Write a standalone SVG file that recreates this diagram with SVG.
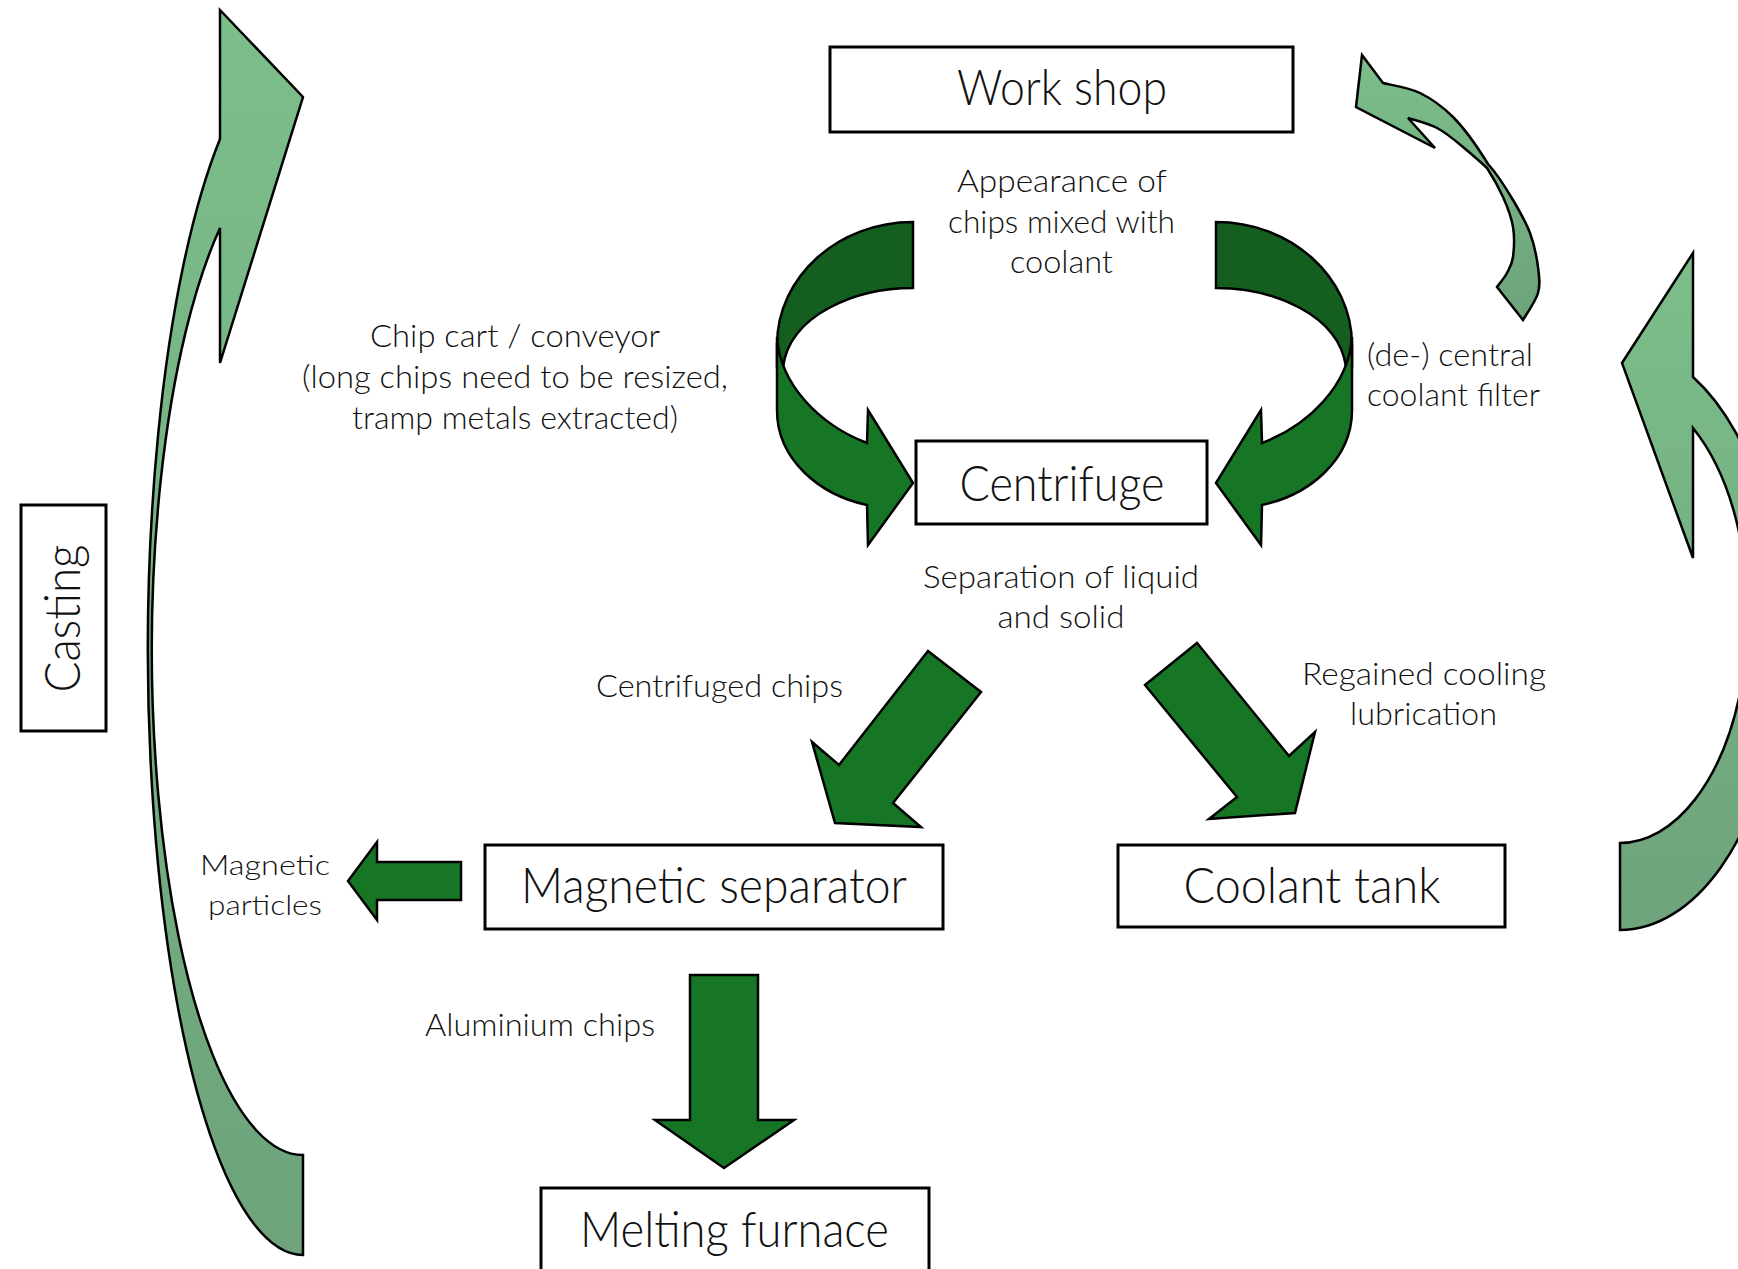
<svg xmlns="http://www.w3.org/2000/svg" width="1738" height="1269" viewBox="0 0 1738 1269">
<defs>
<linearGradient id="lg" x1="0" y1="0" x2="0" y2="1">
<stop offset="0" stop-color="#7cbe8a"/>
<stop offset="1" stop-color="#6ea37b"/>
</linearGradient>
<style>
.box{fill:#fff;stroke:#000;stroke-width:3}
.lt{fill:url(#lg);stroke:#000;stroke-width:2.5;stroke-linejoin:miter}
.dk{fill:#177626;stroke:#000;stroke-width:2.5;stroke-linejoin:miter}
.bk{fill:#145e20;stroke:#000;stroke-width:2.5}
text{font-family:Lato,"Liberation Sans",sans-serif;font-weight:300;fill:#111;text-anchor:middle}
.big{font-size:49px}
.sm{font-size:32px}
.xs{font-size:27px}
.la{text-anchor:start}
</style>
<g id="uturn">
<path class="bk" d="M 913,222 C 838,222 777,277 777,345 L 777,367 L 783,367 C 790,315 855,288 913,288 Z"/>
<path class="dk" d="M 777,337 C 780,385 820,425 867,443 L 868,410 L 913,483 L 868,545 L 867,505 C 820,495 777,460 777,410 Z"/>
</g>
</defs>
<rect width="1738" height="1269" fill="#fff"/>

<g id="connectors">
<path id="casting-loop" class="lt" d="M 303,1255 A 155 605 0 0 1 220,139 L 220,10 L 303,97 L 220,363 L 220,228 A 151 505 0 0 0 303,1155 Z"/>
<path id="right-loop" class="lt" d="M 1620,930 A 163 292 0 0 0 1693,377 L 1693,253 L 1622,363 L 1693,558 L 1693,428 A 128 228 0 0 1 1620,843 Z"/>
<path id="filter-return" class="lt" d="M 1497,287 C 1498.7,284.7 1504.3,278 1507,273 C 1509.7,268 1512,264.7 1513,257 C 1514,249.3 1514.7,237 1513,227 C 1511.3,217 1507.3,206.5 1503,197 C 1498.7,187.5 1493.7,178.3 1487,168 C 1480.3,161.7 1471.3,154 1463,147 C 1454.7,140 1446.2,132.8 1437,128 C 1427.8,123.2 1412.8,119.7 1408,118 L 1435,148 L 1356,107 L 1362,55 L 1383,83 C 1389.2,84.7 1408.3,87.3 1420,93 C 1431.7,98.7 1441.8,105.8 1453,117 C 1464.2,128.2 1477,146.2 1488,164 C 1497,173.8 1505.8,187.8 1513,200 C 1520.2,212.2 1525.8,221.8 1530,233 C 1534.2,244.2 1536.7,257 1538,267 C 1539.3,277 1540.5,284.2 1538,293 C 1535.5,301.8 1525.5,315.5 1523,320 Z"/>
<use id="to-centrifuge-left" href="#uturn"/>
<use id="to-centrifuge-right" href="#uturn" transform="matrix(-1 0 0 1 2129 0)"/>
<path id="centrifuged-chips" class="dk" d="M 928,651 L 981,692 L 893,803 L 921,827 L 835,823 L 812,742 L 839,765 Z"/>
<path id="regained-coolant" class="dk" d="M 1197,643 L 1145,685 L 1237,797 L 1209,819 L 1295,813 L 1315,732 L 1289,756 Z"/>
<path id="magnetic-particles" class="dk" d="M 461,862 L 377,862 L 377,842 L 348,881 L 377,920 L 377,900 L 461,900 Z"/>
<path id="aluminium-chips" class="dk" d="M 690,975 L 758,975 L 758,1120 L 794,1120 L 724,1168 L 655,1120 L 690,1120 Z"/>
</g>

<g id="node-workshop">
<rect class="box" x="830" y="47" width="463" height="85"/>
<text class="big" x="1062" y="105" textLength="210" lengthAdjust="spacingAndGlyphs">Work shop</text>
</g>
<g id="node-centrifuge">
<rect class="box" x="916" y="441" width="291" height="83"/>
<text class="big" x="1062" y="501" textLength="205" lengthAdjust="spacingAndGlyphs">Centrifuge</text>
</g>
<g id="node-magnetic-separator">
<rect class="box" x="485" y="845" width="458" height="84"/>
<text class="big" x="714" y="903" textLength="386" lengthAdjust="spacingAndGlyphs">Magnetic separator</text>
</g>
<g id="node-coolant-tank">
<rect class="box" x="1118" y="845" width="387" height="82"/>
<text class="big" x="1312" y="903" textLength="257" lengthAdjust="spacingAndGlyphs">Coolant tank</text>
</g>
<g id="node-melting-furnace">
<rect class="box" x="541" y="1188" width="388" height="100"/>
<text class="big" x="734.5" y="1247" textLength="309" lengthAdjust="spacingAndGlyphs">Melting furnace</text>
</g>
<g id="node-casting">
<rect class="box" x="21" y="505" width="85" height="226"/>
<text class="big" transform="translate(80,618.5) rotate(-90)" x="0" y="0" textLength="148" lengthAdjust="spacingAndGlyphs">Casting</text>
</g>

<g id="labels">
<text class="sm" x="1062" y="192" textLength="210" lengthAdjust="spacingAndGlyphs">Appearance of</text>
<text class="sm" x="1061.5" y="233" textLength="227" lengthAdjust="spacingAndGlyphs">chips mixed with</text>
<text class="sm" x="1061.5" y="273" textLength="103" lengthAdjust="spacingAndGlyphs">coolant</text>
<text class="sm" x="515" y="347" textLength="290" lengthAdjust="spacingAndGlyphs">Chip cart / conveyor</text>
<text class="sm" x="515" y="388" textLength="426" lengthAdjust="spacingAndGlyphs">(long chips need to be resized,</text>
<text class="sm" x="515" y="429" textLength="326" lengthAdjust="spacingAndGlyphs">tramp metals extracted)</text>
<text class="sm la" x="1367" y="366" textLength="166" lengthAdjust="spacingAndGlyphs">(de-) central</text>
<text class="sm la" x="1367" y="406" textLength="173" lengthAdjust="spacingAndGlyphs">coolant filter</text>
<text class="sm" x="1061" y="588" textLength="276" lengthAdjust="spacingAndGlyphs">Separation of liquid</text>
<text class="sm" x="1061" y="628" textLength="127" lengthAdjust="spacingAndGlyphs">and solid</text>
<text class="sm" x="719.5" y="697" textLength="247" lengthAdjust="spacingAndGlyphs">Centrifuged chips</text>
<text class="sm" x="1424" y="685" textLength="244" lengthAdjust="spacingAndGlyphs">Regained cooling</text>
<text class="sm" x="1423.5" y="725" textLength="147" lengthAdjust="spacingAndGlyphs">lubrication</text>
<text class="xs" x="265" y="875" textLength="130" lengthAdjust="spacingAndGlyphs">Magnetic</text>
<text class="xs" x="265" y="915" textLength="114" lengthAdjust="spacingAndGlyphs">particles</text>
<text class="sm" x="540" y="1036" textLength="230" lengthAdjust="spacingAndGlyphs">Aluminium chips</text>
</g>
</svg>
